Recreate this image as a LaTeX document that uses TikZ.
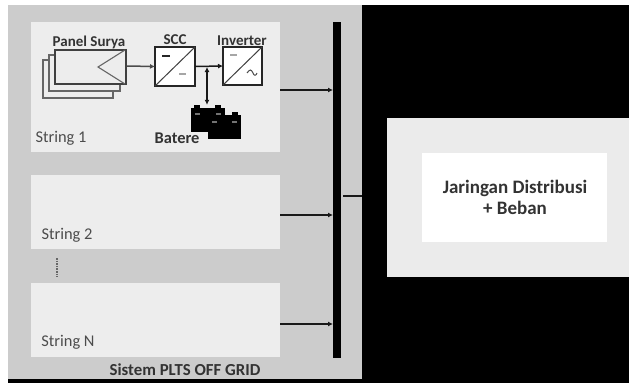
\documentclass[tikz,border=0pt]{standalone}
\usepackage{fontspec}
\setmainfont{Carlito}
\usetikzlibrary{arrows.meta}
\tikzset{
  x=1pt,y=-1pt,
  area/.style={inner sep=0pt,outer sep=0pt,fill=#1,draw=none},
  wire/.style={draw=black!90,line width=1.5pt},
  arr/.style={wire,-{Latex[length=5pt,width=5pt]}},
  conv/.style={draw=black!85,line width=1.5pt,fill=#1},
  pv/.style={draw=black!60,line width=1.1pt,fill=#1},
  lbl/.style={font=\fontsize{16.4}{18}\selectfont,text=black!70,inner sep=0pt},
  blbl/.style={font=\fontsize{15}{17}\selectfont\bfseries,text=black!80,inner sep=0pt},
}
\newcommand{\boxnode}[7]{\node[area=#6,minimum width=#4-#2,minimum height=#5-#3] (#1) at ({(#2+#4)/2},{(#3+#5)/2}) {#7};}
\begin{document}
\begin{tikzpicture}
\useasboundingbox (0,0) rectangle (629,383);
\fill[white] (0,0) rectangle (629,383);
\fill[black] (0,5) rectangle (629,383);
\fill[white] (0,5) rectangle (8,383);
\boxnode{plts}{8}{5}{362}{379}{black!20}{}
\boxnode{s1}{31}{22}{280}{152}{black!7}{}
\boxnode{s2}{31}{175}{280}{249}{black!7}{}
\boxnode{sn}{31}{283}{280}{357}{black!7}{}
\boxnode{grid}{387}{118}{629}{277}{black!8}{}
\boxnode{load}{422}{153}{607}{242}{white}{}
\node[blbl,align=center,font=\fontsize{19}{21}\selectfont\bfseries] (loadtxt) at (515,197) {Jaringan Distribusi\\+ Beban};
\boxnode{bus}{333}{22}{341}{358}{black}{}
% PV panels
\draw[pv=black!7] (43,60) rectangle (113,98);
\draw[pv=black!7] (49,55) rectangle (120,91);
\draw[pv=black!7,draw=black!75] (55,50) rectangle (126,84);
\node[inner sep=0pt] (pvout) at (126,66) {};
\coordinate (apex) at (98,67);
\draw[black!60,line width=1.1pt] (125,50) -- (apex) -- (125,84);
% converters
\node[conv=white,minimum width=40pt,minimum height=39pt,inner sep=0pt,outer sep=0pt] (scc) at (175,66.5) {};
\node[conv=white,minimum width=39pt,minimum height=38pt,inner sep=0pt,outer sep=0pt] (inv) at (242.5,66) {};
\draw[black!75,line width=1pt] (scc.south west) -- (scc.north east);
\draw[black!75,line width=1pt] (inv.south west) -- (inv.north east);
\draw[black!85,line width=1.3pt] (162,56) -- (170,56);
\draw[black!35,line width=1.2pt] (179,74) -- (186,74);
\draw[black!35,line width=1.2pt] (230,55) -- (237,55);
\draw[black!70,line width=1pt] (247,73) .. controls (250,69) and (251,69) .. (253,73) .. controls (254,76) and (256,76) .. (257,73);
% labels
\node[blbl] (lpv) at (89,42) {Panel Surya};
\node[blbl] (lscc) at (175,40) {SCC};
\node[blbl] (linv) at (242,41) {Inverter};
\node[blbl,font=\fontsize{16.4}{18}\selectfont\bfseries] (lbat) at (177,138) {Batere};
\node[lbl] (l1) at (61,138) {String 1};
\node[lbl] (l2) at (67,235) {String 2};
\node[lbl] (ln) at (68,342) {String N};
\node[blbl,font=\fontsize{16.8}{18}\selectfont\bfseries] (ltitle) at (185,370) {Sistem PLTS OFF GRID};
% batteries
\fill[black] (191,108) rectangle (225,132);
\fill[black] (208,115) rectangle (241,139);
\fill[black] (194,105) rectangle (200,108);
\fill[black] (215,105) rectangle (221,108);
\fill[black] (211,112) rectangle (217,115);
\fill[black] (232,112) rectangle (238,115);
\fill[black!55] (195,113) rectangle (200,115);
\fill[black!55] (216,113) rectangle (221,115);
\fill[black!55] (212,121) rectangle (217,123);
\fill[black!55] (232,121) rectangle (237,123);
\node[inner sep=0pt,minimum size=0pt] (bat) at (207,105) {};
% connectors
\draw[arr,draw=black!70] (pvout) -- (scc.west);
\coordinate (tee) at (207,67);
\draw[arr] (scc.east) -- (inv.west);
\draw[wire,{Latex[length=5pt,width=5pt]}-{Latex[length=5pt,width=5pt]}] (tee) -- (bat);
\coordinate (j1) at (333,90);
\coordinate (j2) at (333,215);
\coordinate (j3) at (333,324);
\draw[arr] (s1.east |- j1) -- (j1);
\draw[arr] (s2.east |- j2) -- (j2);
\draw[arr] (sn.east |- j3) -- (j3);
\coordinate (o) at (343,196);
\draw[wire] (o) -- (plts.east |- o);
\coordinate (d1) at (57,258);
\coordinate (d2) at (57,277);
\draw[black!60,line width=1.6pt,densely dotted] (d1) -- (d2);
\end{tikzpicture}
\end{document}
